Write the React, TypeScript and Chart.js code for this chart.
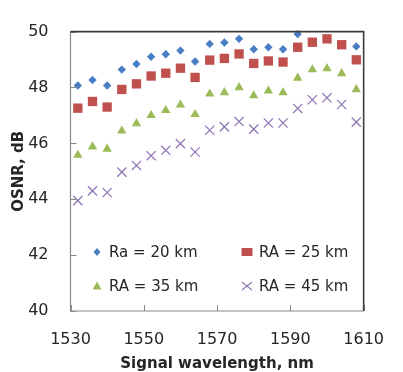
import React, { useEffect, useRef } from 'react';
import { Chart, registerables } from 'chart.js';

Chart.register(...registerables);

// Signal wavelengths (nm)
const wavelengths = [1532, 1536, 1540, 1544, 1548, 1552, 1556, 1560, 1564, 1568, 1572, 1576, 1580, 1584, 1588, 1592, 1596, 1600, 1604, 1608];

// OSNR (dB) for each amplifier length
const osnr20 = [48.07, 48.27, 48.07, 48.64, 48.84, 49.1, 49.19, 49.32, 48.93, 49.56, 49.61, 49.74, 49.37, 49.44, 49.37, 49.91, 50.08, 50.2, 50.05, 49.47];
const osnr25 = [47.26, 47.5, 47.3, 47.93, 48.13, 48.41, 48.51, 48.69, 48.36, 48.98, 49.04, 49.2, 48.86, 48.95, 48.91, 49.44, 49.62, 49.74, 49.53, 48.99];
const osnr35 = [45.58, 45.88, 45.8, 46.45, 46.71, 47.0, 47.18, 47.38, 47.04, 47.77, 47.82, 48.0, 47.71, 47.88, 47.82, 48.34, 48.64, 48.68, 48.5, 47.93];
const osnr45 = [43.95, 44.3, 44.24, 44.97, 45.21, 45.56, 45.75, 45.99, 45.69, 46.47, 46.59, 46.78, 46.51, 46.73, 46.73, 47.25, 47.56, 47.63, 47.39, 46.76];

const seriesLabels = ['Ra = 20 km', 'RA = 25 km', 'RA = 35 km', 'RA = 45 km'];
const seriesColors = ['#4a7ec4', '#c0504d', '#9bbb59', '#8d74b4'];

const xTicks = [1530, 1550, 1570, 1590, 1610];
const yTicks = [40, 42, 44, 46, 48, 50];

const X_MIN = 1530;
const X_MAX = 1610;
const Y_MIN = 40;
const Y_MAX = 50;

const FONT = "'DejaVu Sans', sans-serif";
const TEXT = '#262626';

type Shape = 'diamond' | 'square' | 'triangle' | 'cross';

// small legend glyphs
function drawGlyph(ctx: CanvasRenderingContext2D, shape: Shape, x: number, y: number, color: string) {
  ctx.save();
  ctx.fillStyle = color;
  ctx.strokeStyle = color;
  ctx.beginPath();
  if (shape === 'diamond') {
    ctx.moveTo(x, y - 4);
    ctx.lineTo(x + 3.5, y);
    ctx.lineTo(x, y + 4);
    ctx.lineTo(x - 3.5, y);
    ctx.closePath();
    ctx.fill();
  } else if (shape === 'square') {
    ctx.rect(x - 5.5, y - 4, 11, 8);
    ctx.fill();
  } else if (shape === 'triangle') {
    ctx.moveTo(x, y - 4.5);
    ctx.lineTo(x + 4.5, y + 3.5);
    ctx.lineTo(x - 4.5, y + 3.5);
    ctx.closePath();
    ctx.fill();
  } else {
    ctx.lineWidth = 1.1;
    ctx.moveTo(x - 5, y - 4);
    ctx.lineTo(x + 5, y + 4);
    ctx.moveTo(x + 5, y - 4);
    ctx.lineTo(x - 5, y + 4);
    ctx.stroke();
  }
  ctx.restore();
}

const legendShapes: Shape[] = ['diamond', 'square', 'triangle', 'cross'];

// plot frame, inward tick marks and the in-plot legend
const framePlugin = {
  id: 'frameAndLegend',
  afterDatasetsDraw(chart: any) {
    const { ctx, chartArea: a, scales } = chart;
    ctx.save();

    // inward ticks
    ctx.strokeStyle = '#8a8a8a';
    ctx.lineWidth = 1;
    ctx.beginPath();
    yTicks.forEach((v) => {
      const y = Math.round(scales.y.getPixelForValue(v)) + 0.5;
      ctx.moveTo(a.left, y);
      ctx.lineTo(a.left + 6, y);
    });
    xTicks.forEach((v) => {
      const x = Math.round(scales.x.getPixelForValue(v)) + 0.5;
      ctx.moveTo(x, a.bottom);
      ctx.lineTo(x, a.bottom - 6);
    });
    ctx.stroke();

    // left and bottom axis lines
    ctx.beginPath();
    ctx.strokeStyle = '#8a8a8a';
    ctx.lineWidth = 1.2;
    ctx.moveTo(a.left, a.top);
    ctx.lineTo(a.left, a.bottom);
    ctx.lineTo(a.right, a.bottom);
    ctx.stroke();

    // top and right border
    ctx.beginPath();
    ctx.strokeStyle = '#3c3c3c';
    ctx.lineWidth = 1.6;
    ctx.moveTo(a.left, a.top);
    ctx.lineTo(a.right, a.top);
    ctx.lineTo(a.right, a.bottom);
    ctx.stroke();

    // legend, two columns inside the plot
    ctx.font = `15px ${FONT}`;
    ctx.fillStyle = TEXT;
    ctx.textBaseline = 'middle';
    ctx.textAlign = 'left';
    const rows = [a.bottom - 59, a.bottom - 25];
    const cols = [a.left + 26.5, a.left + 176.5];
    chart.data.datasets.forEach((ds: any, i: number) => {
      const cx = cols[i % 2];
      const cy = rows[Math.floor(i / 2)];
      drawGlyph(ctx, legendShapes[i], cx, cy, seriesColors[i]);
      ctx.fillStyle = TEXT;
      ctx.fillText(ds.label, cx + 12, cy + 1);
    });

    ctx.restore();
  },
};

const toPoints = (ys: number[]) => wavelengths.map((x, i) => ({ x, y: ys[i] }));
const hideAbove = (r: number) => (c: any) => (c.raw && c.raw.y > Y_MAX ? 0 : r);

export default function App() {
  const canvasRef = useRef<HTMLCanvasElement | null>(null);

  useEffect(() => {
    document.body.style.margin = '0';
    const canvas = canvasRef.current;
    if (!canvas) return;

    const chart = new Chart(canvas, {
      type: 'scatter',
      data: {
        datasets: [
          {
            label: seriesLabels[0],
            data: toPoints(osnr20),
            pointStyle: 'rectRot',
            pointRadius: hideAbove(4.2),
            backgroundColor: seriesColors[0],
            borderColor: seriesColors[0],
            borderWidth: 0,
          },
          {
            label: seriesLabels[1],
            data: toPoints(osnr25),
            pointStyle: 'rect',
            pointRadius: hideAbove(6.6),
            backgroundColor: seriesColors[1],
            borderColor: seriesColors[1],
            borderWidth: 0,
          },
          {
            label: seriesLabels[2],
            data: toPoints(osnr35),
            pointStyle: 'triangle',
            pointRadius: hideAbove(5.4),
            backgroundColor: seriesColors[2],
            borderColor: seriesColors[2],
            borderWidth: 0,
          },
          {
            label: seriesLabels[3],
            data: toPoints(osnr45),
            pointStyle: 'crossRot',
            pointRadius: hideAbove(6.5),
            backgroundColor: seriesColors[3],
            borderColor: seriesColors[3],
            borderWidth: 1.2,
          },
        ],
      },
      options: {
        animation: false,
        responsive: true,
        maintainAspectRatio: false,
        layout: { padding: { top: 19, right: 21, left: 0, bottom: 0 } },
        plugins: {
          legend: { display: false },
          tooltip: { enabled: false },
        },
        datasets: { scatter: { clip: false } } as any,
        scales: {
          x: {
            type: 'linear',
            min: X_MIN,
            max: X_MAX,
            afterBuildTicks: (s: any) => {
              s.ticks = xTicks.map((v) => ({ value: v }));
            },
            afterFit: (s: any) => {
              s.height = 61;
            },
            grid: { display: false, drawTicks: false },
            border: { display: false },
            ticks: {
              padding: 19,
              maxRotation: 0,
              autoSkip: false,
              color: TEXT,
              font: { family: FONT, size: 16 },
              callback: (v: any) => String(v),
            },
            title: {
              display: true,
              text: 'Signal wavelength, nm',
              color: TEXT,
              padding: { top: 0, bottom: 0.5 },
              font: { family: FONT, size: 15, weight: 'bold', lineHeight: 1 },
            },
          },
          y: {
            type: 'linear',
            min: Y_MIN,
            max: Y_MAX,
            afterBuildTicks: (s: any) => {
              s.ticks = yTicks.map((v) => ({ value: v }));
            },
            afterFit: (s: any) => {
              s.width = 70.5;
            },
            grid: { display: false, drawTicks: false },
            border: { display: false },
            ticks: {
              padding: 22,
              color: TEXT,
              font: { family: FONT, size: 16 },
              callback: (v: any) => String(v),
            },
            title: {
              display: true,
              text: 'OSNR, dB',
              color: TEXT,
              padding: { top: 11.5, bottom: 0 },
              font: { family: FONT, size: 15, weight: 'bold', lineHeight: 1 },
            },
          },
        },
      },
      plugins: [framePlugin],
    });

    return () => chart.destroy();
  }, []);

  return (
    <div style={{ position: 'fixed', left: 0, top: 0, width: 403, height: 372 }}>
      <canvas ref={canvasRef} />
    </div>
  );
}
